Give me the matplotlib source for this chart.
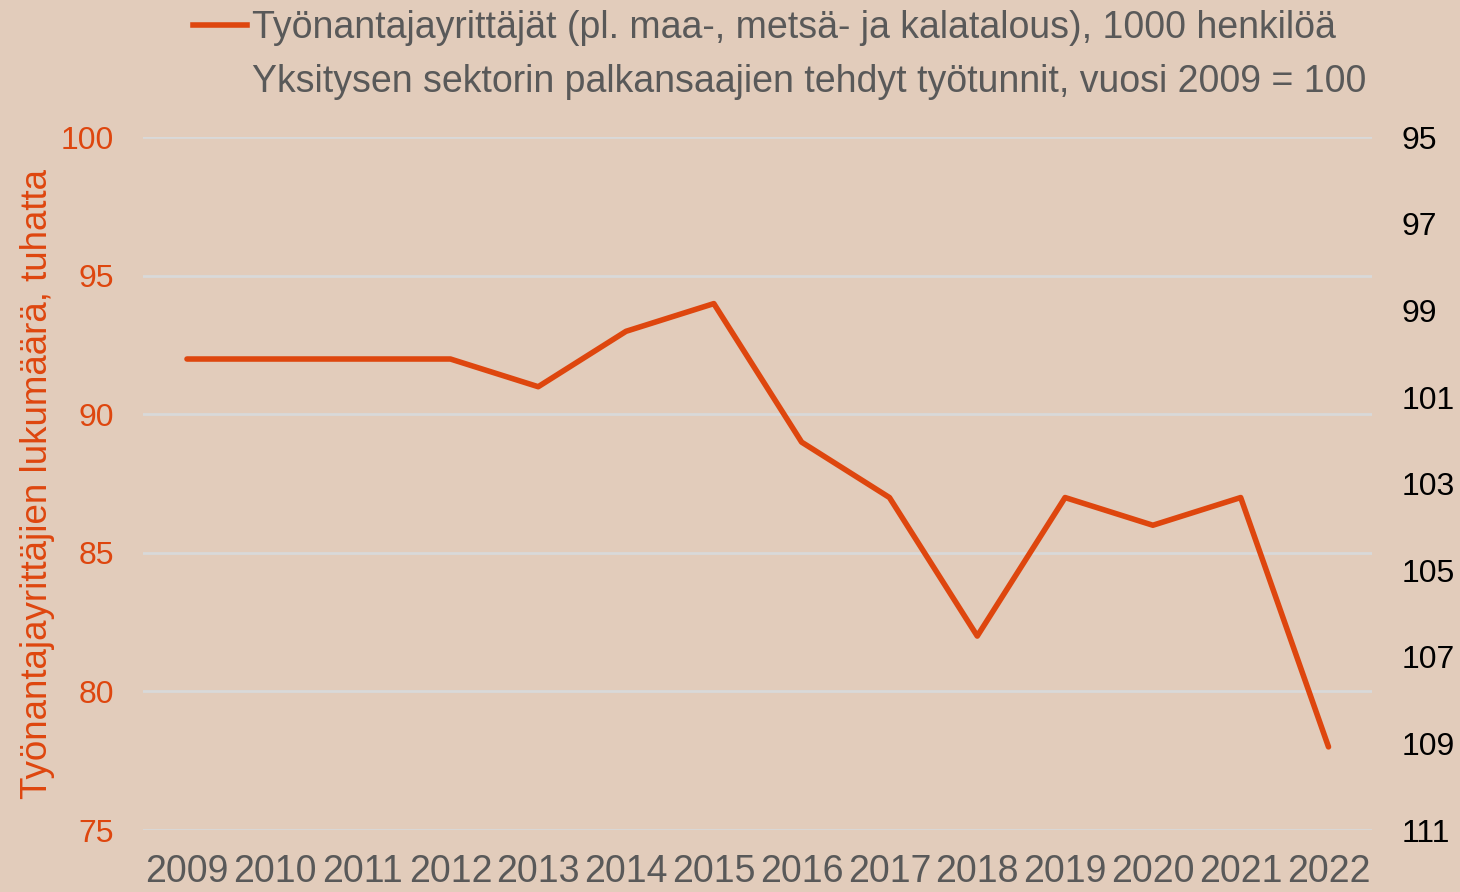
import matplotlib.pyplot as plt
from matplotlib.lines import Line2D

years = ["2009", "2010", "2011", "2012", "2013", "2014", "2015",
         "2016", "2017", "2018", "2019", "2020", "2021", "2022"]
employers = [92, 92, 92, 92, 91, 93, 94, 89, 87, 82, 87, 86, 87, 78]
left_ticks = [75, 80, 85, 90, 95, 100]
right_ticks = [95, 97, 99, 101, 103, 105, 107, 109, 111]

label_1 = "Työnantajayrittäjät (pl. maa-, metsä- ja kalatalous), 1000 henkilöä"
label_2 = "Yksitysen sektorin palkansaajien tehdyt työtunnit, vuosi 2009 = 100"

bg = "#E2CCBB"
orange = "#DE460E"
grey = "#595959"

plt.rcParams["font.family"] = ["Liberation Sans", "DejaVu Sans"]

fig = plt.figure(figsize=(14.6, 8.92), dpi=100, facecolor=bg)
ax = fig.add_axes([0.098, 0.0695, 0.842, 0.7765])
ax.set_facecolor(bg)

x = list(range(len(years)))
ax.plot(x, employers, color=orange, lw=4, solid_capstyle="round", zorder=3)

ax.set_xlim(-0.5, len(years) - 0.5)
ax.set_ylim(75, 100)
ax.set_xticks(x)
ax.set_xticklabels(years, fontsize=27, color=grey)
ax.set_yticks(left_ticks)
ax.set_yticklabels([str(t) for t in left_ticks], fontsize=23, color=orange)
ax.tick_params(length=0)
ax.tick_params(axis="x", pad=17)
ax.tick_params(axis="y", pad=21)
ax.grid(axis="y", color="#D9D9D9", lw=2)
ax.set_axisbelow(True)
for s in ax.spines.values():
    s.set_visible(False)
ax.set_ylabel("Työnantajayrittäjien lukumäärä, tuhatta", fontsize=26.5,
              color=orange, labelpad=4)

# right axis, inverted
ax2 = ax.twinx()
ax2.set_ylim(111, 95)
ax2.set_yticks(right_ticks)
ax2.set_yticklabels([str(t) for t in right_ticks], fontsize=23, color="black")
ax2.tick_params(length=0, pad=21)
for s in ax2.spines.values():
    s.set_visible(False)

handles = [Line2D([], [], color=orange, lw=4),
           Line2D([], [], color="none", lw=4)]
fig.legend(handles, [label_1, label_2], loc="upper right",
           bbox_to_anchor=(0.959, 1.027), frameon=False, fontsize=27,
           labelcolor=grey, handlelength=1.45, handletextpad=0.13,
           labelspacing=0.5)

fig.savefig("out.png", dpi=100, facecolor=bg)
